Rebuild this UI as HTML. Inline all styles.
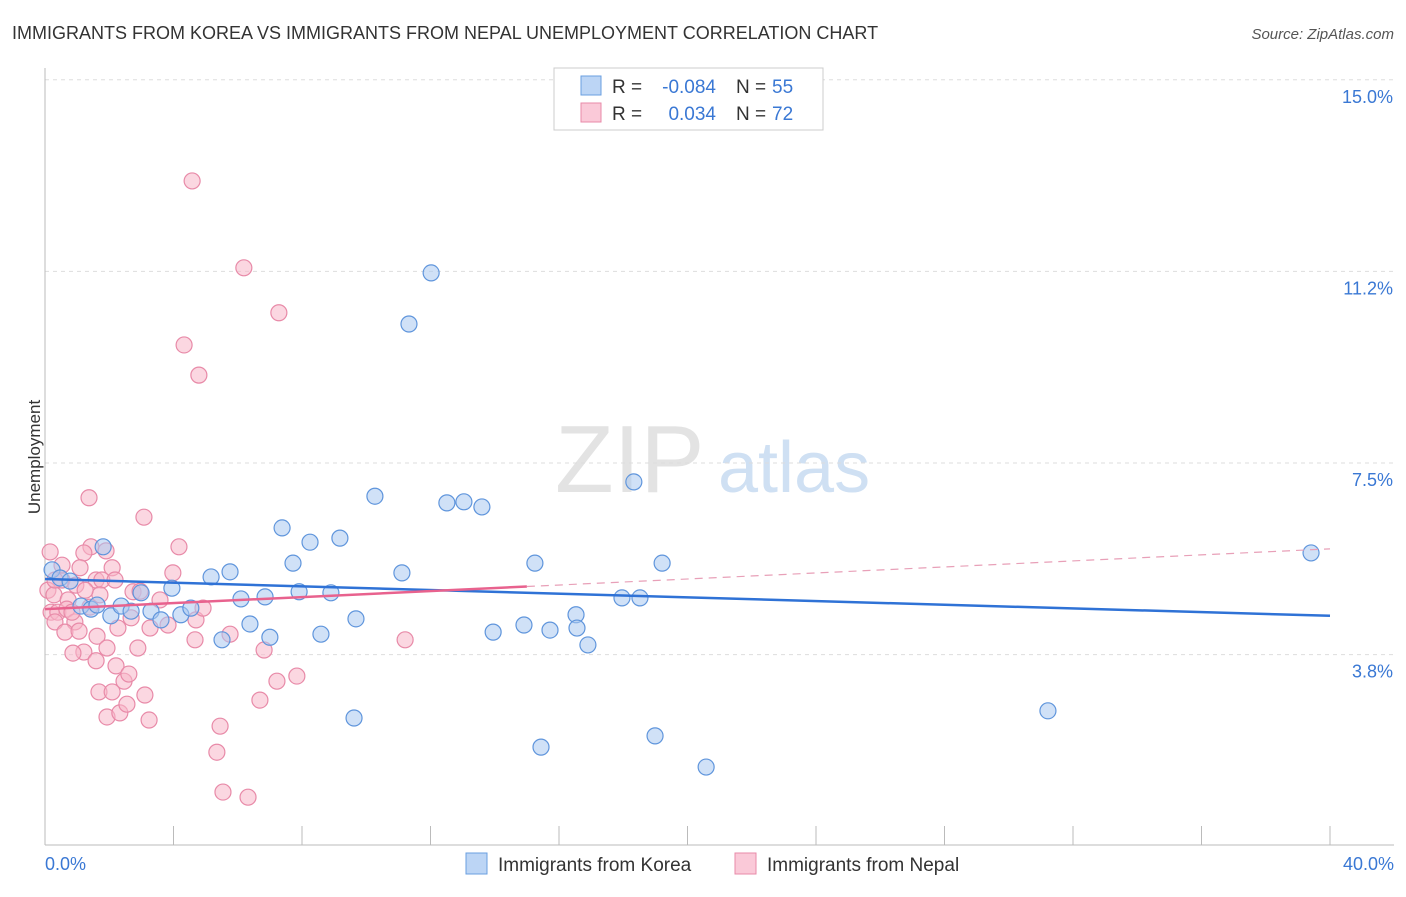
<!DOCTYPE html>
<html><head><meta charset="utf-8"><style>
body{margin:0;background:#fff;font-family:"Liberation Sans",sans-serif;}
svg text{font-family:"Liberation Sans",sans-serif;}
</style></head><body>
<svg width="1406" height="892" xmlns="http://www.w3.org/2000/svg">
<text x="12" y="39" font-size="18" fill="#333">IMMIGRANTS FROM KOREA VS IMMIGRANTS FROM NEPAL UNEMPLOYMENT CORRELATION CHART</text>
<text x="1394" y="39" font-size="15" fill="#555" font-style="italic" text-anchor="end">Source: ZipAtlas.com</text>
<text x="40" y="457" font-size="17" fill="#333" transform="rotate(-90 40 457)" text-anchor="middle">Unemployment</text>
<text x="555" y="492" font-size="96" fill="#e3e3e3" font-family="Liberation Serif">ZIP</text>
<text x="718" y="492" font-size="72" fill="#cfe0f3">atlas</text>
<g id="grid"></g><g id="axes"></g><g id="marks"></g>
<g>
<rect x="554" y="68" width="269" height="62" fill="#fff" stroke="#ccc"/>
<rect x="581" y="76" width="20" height="19" fill="#bcd5f5" stroke="#6a9fe0"/>
<rect x="581" y="103" width="20" height="19" fill="#fac9d8" stroke="#e88aa8"/>
<text x="612" y="93" font-size="19" fill="#333">R =</text>
<text x="716" y="93" font-size="19" fill="#3a78d4" text-anchor="end">-0.084</text>
<text x="736" y="93" font-size="19" fill="#333">N =</text>
<text x="772" y="93" font-size="19" fill="#3a78d4">55</text>
<text x="612" y="120" font-size="19" fill="#333">R =</text>
<text x="716" y="120" font-size="19" fill="#3a78d4" text-anchor="end">0.034</text>
<text x="736" y="120" font-size="19" fill="#333">N =</text>
<text x="772" y="120" font-size="19" fill="#3a78d4">72</text>
</g>
<g>
<rect x="466" y="853" width="21" height="21" fill="#bcd5f5" stroke="#6a9fe0"/>
<text x="498" y="871" font-size="19" fill="#333">Immigrants from Korea</text>
<rect x="735" y="853" width="21" height="21" fill="#fac9d8" stroke="#e88aa8"/>
<text x="767" y="871" font-size="19" fill="#333">Immigrants from Nepal</text>
</g>
</svg>
<script>
const yTicks=[15.0,11.25,7.5,3.75];
const yTickLabels=["15.0%","11.2%","7.5%","3.8%"];
const xTickCount=10;
const koreaX=[12.02,11.33,18.33,10.27,12.51,13.04,13.60,7.38,9.18,8.25,1.81,39.41,7.72,15.25,19.21,5.76,5.17,11.11,3.95,2.99,0.22,0.47,0.78,1.12,1.43,2.05,2.37,2.68,3.30,3.61,4.23,4.54,6.10,6.85,7.91,8.90,9.68,6.38,5.51,7.00,8.59,13.95,14.91,15.72,16.53,16.56,16.90,17.96,18.52,9.62,15.44,18.99,20.58,31.22,1.62];
const koreaY=[11.22,10.22,7.13,6.85,6.72,6.74,6.64,6.23,6.03,5.95,5.86,5.74,5.54,5.54,5.54,5.37,5.27,5.35,5.05,4.96,5.41,5.25,5.19,4.70,4.64,4.51,4.70,4.60,4.60,4.43,4.53,4.66,4.84,4.88,4.98,4.96,4.45,4.35,4.04,4.09,4.15,4.19,4.33,4.23,4.53,4.27,3.94,4.86,4.86,2.51,1.94,2.16,1.55,2.65,4.72];
const nepalX=[4.58,6.19,7.28,4.33,4.79,1.37,3.08,4.17,0.16,1.43,1.21,1.90,2.09,1.09,1.59,1.77,3.98,0.53,0.96,0.09,0.28,0.72,1.71,2.74,0.19,0.40,0.68,0.31,0.93,0.62,1.06,2.27,3.83,4.70,4.67,5.76,1.62,1.93,2.89,1.21,0.87,1.59,2.21,2.46,6.82,11.21,1.68,2.09,2.61,3.11,7.22,7.84,6.69,1.93,2.33,3.24,2.55,5.45,5.35,5.54,6.32,0.53,0.31,1.40,0.84,3.58,3.27,2.68,4.92,2.96,2.18,1.25];
const nepalY=[13.02,11.32,10.44,9.81,9.22,6.82,6.44,5.86,5.76,5.86,5.74,5.78,5.45,5.45,5.21,5.21,5.35,5.21,5.11,5.01,4.92,4.82,4.92,4.98,4.58,4.58,4.64,4.39,4.39,4.19,4.21,4.27,4.33,4.43,4.04,4.15,4.11,3.88,3.88,3.80,3.78,3.63,3.53,3.23,3.84,4.04,3.02,3.02,3.37,2.96,3.23,3.33,2.86,2.53,2.61,2.47,2.78,2.35,1.84,1.06,0.96,5.50,5.21,4.68,4.58,4.82,4.27,4.47,4.66,4.99,5.21,5.01];
const koreaTrend=[5.23,4.51];
const nepalTrend=[4.64,5.82];
const nepalSolidEnd=15;
const NS="http://www.w3.org/2000/svg";
const X=v=>45+v*32.125, Y=v=>463+(7.5-v)*51.1;
function mk(t,a,p){const e=document.createElementNS(NS,t);for(const k in a)e.setAttribute(k,a[k]);p.appendChild(e);return e;}
const grid=document.getElementById('grid'),axes=document.getElementById('axes'),marks=document.getElementById('marks');
yTicks.forEach((t,i)=>{
 const l=mk('line',{x1:45,x2:1394,y1:Y(t),y2:Y(t),stroke:'#ddd','stroke-dasharray':'4,4'},grid);
 
 
 const tx=mk('text',{x:1393,y:Y(t)+23,'font-size':18,fill:'#3a78d4','text-anchor':'end'},axes);tx.textContent=yTickLabels[i];
 
 
});
const yax=mk('line',{x1:45,x2:45,y1:68,y2:845,stroke:'#bbb'},axes);


const xax=mk('line',{x1:45,x2:1394,y1:845,y2:845,stroke:'#bbb'},axes);


for(let i=0;i<=xTickCount;i++){const v=i*4;const t=mk('line',{x1:X(v),x2:X(v),y1:826,y2:845,stroke:'#bbb'},axes);
 
 }
[["0.0%",45,'start'],["40.0%",1394,'end']].forEach(a=>{const t=mk('text',{x:a[1],y:870,'font-size':18,fill:'#3a78d4','text-anchor':a[2]},axes);t.textContent=a[0];
 
 });
function pts(xs,ys,fill,stroke,name){xs.forEach((x,i)=>{const c=mk('circle',{cx:X(x),cy:Y(ys[i]),r:8,fill:fill,'fill-opacity':0.55,stroke:stroke,'stroke-width':1.2},marks);
 
 });}
pts(nepalX,nepalY,'#f7b6c8','#e88aa8','nepal-point');
pts(koreaX,koreaY,'#a9c8f0','#5f95dc','korea-point');
const kt=mk('line',{x1:X(0),y1:Y(koreaTrend[0]),x2:X(40),y2:Y(koreaTrend[1]),stroke:'#2f72d6','stroke-width':2.5},marks);


const nAt=v=>nepalTrend[0]+(nepalTrend[1]-nepalTrend[0])*v/40;
const ns=mk('line',{x1:X(0),y1:Y(nepalTrend[0]),x2:X(nepalSolidEnd),y2:Y(nAt(nepalSolidEnd)),stroke:'#e8628e','stroke-width':2.5},marks);


const nd=mk('line',{x1:X(nepalSolidEnd),y1:Y(nAt(nepalSolidEnd)),x2:X(40),y2:Y(nepalTrend[1]),stroke:'#e8a0b8','stroke-width':1.2,'stroke-dasharray':'8,6'},marks);


</script>
</body></html>
